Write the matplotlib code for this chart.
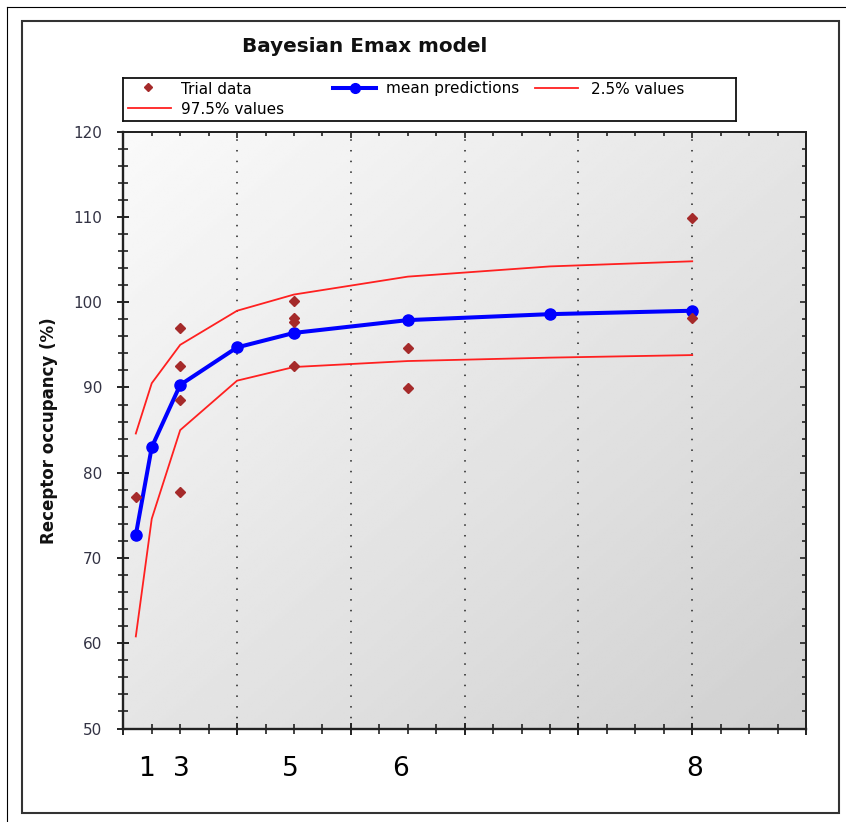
import matplotlib
matplotlib.use('Agg')
import matplotlib.pyplot as plt
import matplotlib.ticker as mticker
from matplotlib.lines import Line2D
from matplotlib.patches import Rectangle
import numpy as np

plt.rcParams.update({
    'font.family': 'DejaVu Sans',
    'font.size': 11,
})

# dose grid used for the model curves
dose = [0.11, 0.25, 0.5, 1.0, 1.5, 2.5, 3.75, 5.0]
mean_pred = [72.7, 83.0, 90.3, 94.7, 96.4, 97.9, 98.6, 99.0]
upper_975 = [84.6, 90.5, 95.0, 99.0, 100.9, 103.0, 104.2, 104.8]
lower_25 = [60.8, 74.6, 85.0, 90.8, 92.4, 93.1, 93.5, 93.8]

# observed trial data
trial_dose = [0.11, 0.5, 0.5, 0.5, 0.5, 1.5, 1.5, 1.5, 1.5, 2.5, 2.5, 5.0, 5.0]
trial_occ = [77.1, 97.0, 92.5, 88.5, 77.7, 100.2, 98.1, 97.7, 92.5, 94.6, 89.9, 109.9, 98.1]

# labels written under the x axis
cohort_labels = ['1', '3', '5', '6', '8']
cohort_pos = [0.2, 0.51, 1.47, 2.44, 5.02]

W, H = 846, 822
SPINE = '#222222'
TICK_TXT = '#333344'


def fx(px):
    return px / W


def fy(py):
    return 1 - py / H


fig = plt.figure(figsize=(W / 100, H / 100), dpi=100)

# frames around the picture
fig.add_artist(Line2D([fx(7), fx(846)], [fy(7), fy(7)], color='black', lw=0.8))
fig.add_artist(Line2D([fx(7), fx(7)], [fy(7), fy(822)], color='black', lw=0.8))
fig.add_artist(Rectangle((fx(22), fy(813)), fx(839) - fx(22), fy(21) - fy(813),
                         fill=False, edgecolor='#333333', lw=1.5))

ax = fig.add_axes([fx(123.3), fy(728.5), (806 - 123.3) / W, (728.5 - 131.7) / H])

# grey diagonal background
gx, gy = np.meshgrid(np.linspace(0, 1, 200), np.linspace(1, 0, 200))
grad = 250 - 21 * gx - 21 * (1 - gy)
ax.imshow(grad, extent=[0, 1, 0, 1], transform=ax.transAxes, aspect='auto',
          cmap='gray', vmin=0, vmax=255, interpolation='bilinear', zorder=0)

ax.plot(dose, upper_975, color='#ff2020', lw=1.3, zorder=3)
ax.plot(dose, lower_25, color='#ff2020', lw=1.3, zorder=3)
ax.plot(dose, mean_pred, color='#0000ff', lw=2.9, marker='o', markersize=8,
        zorder=4)
ax.plot(trial_dose, trial_occ, linestyle='none', marker='D', markersize=5,
        color='#a52a2a', zorder=5)

ax.set_xlim(0, 6)
ax.set_ylim(50, 120)
ax.xaxis.set_major_locator(mticker.MultipleLocator(1))
ax.xaxis.set_minor_locator(mticker.MultipleLocator(0.25))
ax.yaxis.set_major_locator(mticker.MultipleLocator(10))
ax.yaxis.set_minor_locator(mticker.MultipleLocator(2))
ax.tick_params(axis='both', which='major', direction='inout', length=9,
               width=1.4, color=SPINE)
ax.tick_params(axis='both', which='minor', direction='inout', length=6.5,
               width=1.2, color=SPINE)
ax.tick_params(axis='y', labelsize=11, labelcolor=TICK_TXT, pad=10.5)
ax.tick_params(axis='x', labelbottom=False)
ax.grid(axis='x', which='major', color='#222222', linestyle=(0, (1, 6)), lw=1.1)
ax.set_axisbelow(False)

for side in ('left', 'bottom'):
    ax.spines[side].set_linewidth(1.7)
    ax.spines[side].set_color(SPINE)
for side in ('top', 'right'):
    ax.spines[side].set_linewidth(1.4)
    ax.spines[side].set_color(SPINE)

top = ax.secondary_xaxis('top')
top.xaxis.set_major_locator(mticker.MultipleLocator(1))
top.xaxis.set_minor_locator(mticker.MultipleLocator(0.25))
top.tick_params(which='major', direction='in', length=4, width=1.2, color=SPINE,
                labeltop=False)
top.tick_params(which='minor', direction='in', length=3, width=1.2, color=SPINE)
top.spines['top'].set_linewidth(1.4)
top.spines['top'].set_color(SPINE)

right = ax.secondary_yaxis('right')
right.yaxis.set_major_locator(mticker.MultipleLocator(10))
right.yaxis.set_minor_locator(mticker.MultipleLocator(2))
right.tick_params(which='major', direction='in', length=4.5, width=1.2, color=SPINE,
                  labelright=False)
right.tick_params(which='minor', direction='in', length=3, width=1.2, color=SPINE)
right.spines['right'].set_linewidth(1.4)
right.spines['right'].set_color(SPINE)

for lab, pos in zip(cohort_labels, cohort_pos):
    ax.text(pos, -0.068, lab, transform=ax.get_xaxis_transform(),
            ha='center', va='center', fontsize=19, color='black')

fig.text(fx(365), fy(47), 'Bayesian Emax model', ha='center', va='center',
         fontsize=14.4, fontweight='bold', color='#111111')
fig.text(fx(48.7), fy(431), 'Receptor occupancy (%)', rotation=90,
         ha='center', va='center', fontsize=12, fontweight='bold', color='#111111')

# hand-built legend box
lax = fig.add_axes([fx(123.3), fy(121), (736 - 123.3) / W, (121 - 78) / H])
lax.set_xlim(0, 612.7)
lax.set_ylim(43, 0)
lax.set_xticks([])
lax.set_yticks([])
for s in lax.spines.values():
    s.set_linewidth(1.3)
    s.set_color('#111111')
lax.set_facecolor('white')

lax.plot([25], [9.5], linestyle='none', marker='D', markersize=4.5, color='#a52a2a')
lax.text(58, 11, 'Trial data', va='center', fontsize=11)
lax.plot([210, 253], [10.5, 10.5], color='#0000ff', lw=2.9)
lax.plot([231.5], [10.5], marker='o', markersize=7, color='#0000ff')
lax.text(263, 11, 'mean predictions', va='center', fontsize=11)
lax.plot([412, 455], [10.5, 10.5], color='#ff2020', lw=1.3)
lax.text(468, 11, '2.5% values', va='center', fontsize=11)
lax.plot([5, 48], [30, 30], color='#ff2020', lw=1.3)
lax.text(58, 32, '97.5% values', va='center', fontsize=11)

fig.savefig('out.png', dpi=100)
